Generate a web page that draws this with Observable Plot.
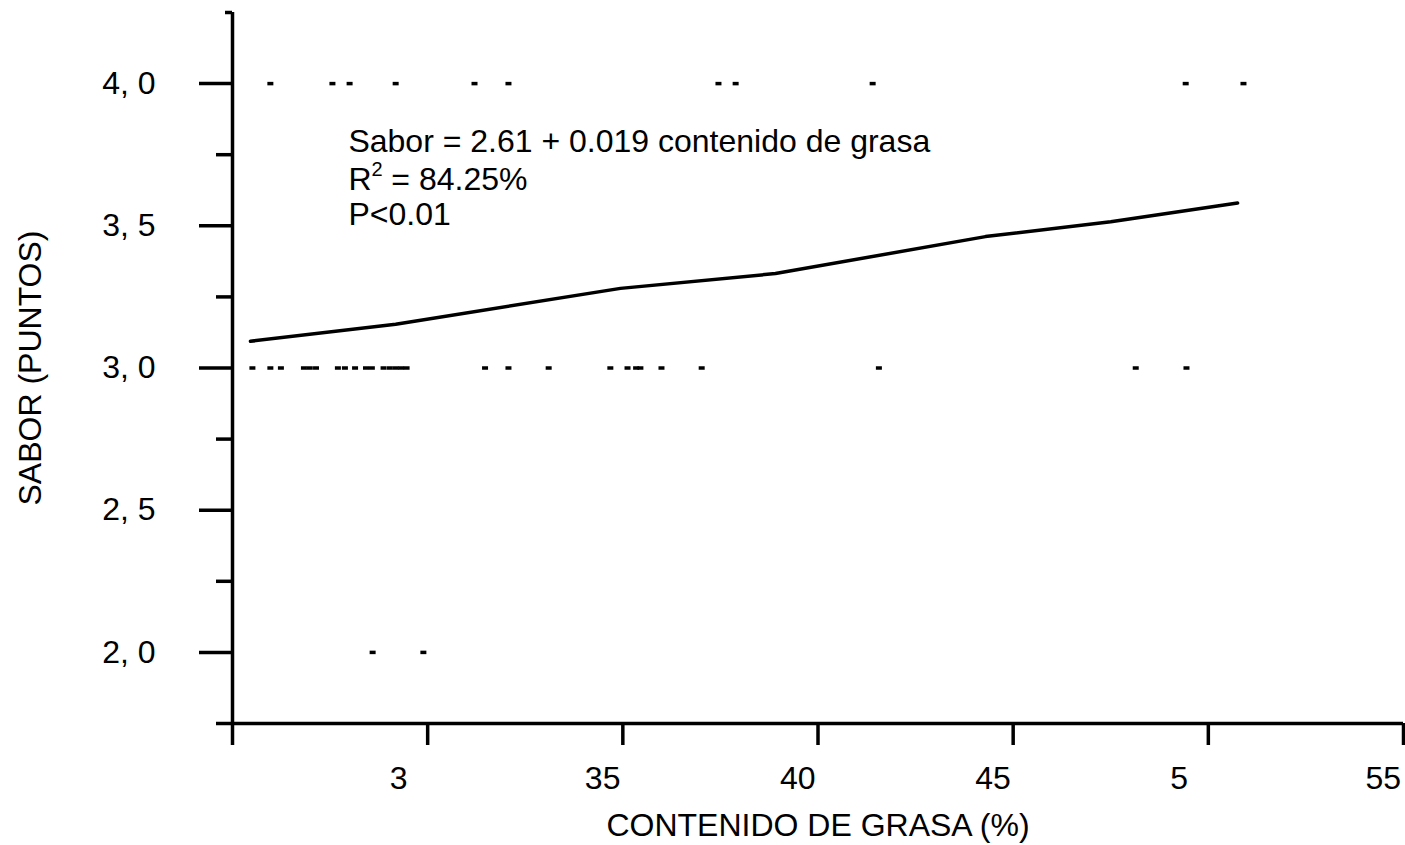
<!DOCTYPE html>
<html>
<head>
<meta charset="utf-8">
<script src="https://cdn.jsdelivr.net/npm/d3@7"></script>
<script src="https://cdn.jsdelivr.net/npm/@observablehq/plot@0.6"></script>
<style>
  html, body { margin: 0; padding: 0; background: #fff; }
  #chart { width: 1405px; height: 845px; }
</style>
</head>
<body>
<div id="chart"></div>
<script>
// ---- data ----
const grasa4 = [25.97, 27.56, 28.0, 29.18, 31.2, 32.07, 37.45, 37.89, 41.4, 49.42, 50.9];
const grasa3 = [25.51, 25.97, 26.24, 26.83, 26.98, 27.14, 27.70, 27.88, 28.14, 28.42, 28.57,
                28.87, 29.03, 29.18, 29.32, 29.46, 31.47, 32.07, 33.10, 34.68, 35.12, 35.34,
                35.45, 35.99, 37.02, 41.56, 48.14, 49.44];
const grasa2 = [28.59, 29.89];
const fitX = [25.46, 29.18, 34.94, 38.91, 44.29, 47.50, 50.75];
const fitY = [3.094, 3.154, 3.280, 3.332, 3.462, 3.514, 3.580];
const xTicks = [25, 30, 35, 40, 45, 50, 55];
const xTickLabels = ["", "3", "35", "40", "45", "5", "55"];
const yTicks = [2.0, 2.5, 3.0, 3.5, 4.0];
const yTickLabels = ["2, 0", "2, 5", "3, 0", "3, 5", "4, 0"];
const yMinorTicks = [1.75, 2.25, 2.75, 3.25, 3.75];
const yTopStub = [4.25];
const annotX = 27.97;
const annotY = [3.794, 3.661, 3.538];
const line1 = "Sabor = 2.61 + 0.019 contenido de grasa";
const line2a = "R";
const line2sup = "2";
const line2b = " = 84.25%";
const line3 = "P<0.01";

const points = [
  ...grasa4.map(x => ({x, y: 4.0})),
  ...grasa3.map(x => ({x, y: 3.0})),
  ...grasa2.map(x => ({x, y: 2.0}))
];
const fit = fitX.map((x, i) => ({x, y: fitY[i]}));
const xLab = new Map(xTicks.map((d, i) => [d, xTickLabels[i]]));
const yLab = new Map(yTicks.map((d, i) => [d, yTickLabels[i]]));

const rectSymbol = { draw(ctx) { ctx.rect(-3, -1.75, 6, 3.5); } };
const FONT = "'Liberation Sans', Arial, Helvetica, sans-serif";
const SW = 3.5;

const chart = Plot.plot({
  width: 1405,
  height: 845,
  marginLeft: 232,
  marginRight: 2,
  marginTop: 12,
  marginBottom: 122,
  style: { fontFamily: FONT, fontSize: "32px", color: "#000", background: "#fff" },
  x: { domain: [25, 55] },
  y: { domain: [1.75, 4.25] },
  marks: [
    // axis lines
    Plot.ruleX([25], { y1: 1.75, y2: 4.25, strokeWidth: SW, stroke: "#000" }),
    Plot.ruleY([1.75], { x1: 25, x2: 55, strokeWidth: SW, stroke: "#000" }),
    // y minor ticks
    Plot.axisY({ ticks: yMinorTicks, tickSize: 16, text: null, strokeWidth: SW, label: null }),
    Plot.axisY({ ticks: yTopStub, tickSize: 7, text: null, strokeWidth: SW, label: null }),
    // y major ticks + labels
    Plot.axisY({ ticks: yTicks, tickSize: 33, tickPadding: 44, strokeWidth: SW,
                 tickFormat: d => yLab.get(d), fontSize: 32, label: null }),
    // x ticks
    Plot.axisX({ ticks: xTicks, tickSize: 22, text: null, strokeWidth: SW, label: null }),
    // x tick labels (offset left of their ticks as in the original)
    Plot.axisX({ ticks: xTicks, tickSize: 0, tickPadding: 43, textAnchor: "start", dx: -38,
                 tickFormat: d => xLab.get(d), fontSize: 32, label: null }),
    // axis titles
    Plot.axisY({ ticks: [], label: "SABOR (PUNTOS)", labelAnchor: "center", labelOffset: 214, fontSize: 32, labelArrow: "none" }),
    Plot.axisX({ ticks: [], label: "CONTENIDO DE GRASA (%)", labelAnchor: "center", labelOffset: 112, dx: 12, fontSize: 32, labelArrow: "none" }),
    // data points
    Plot.dot(points, { x: "x", y: "y", symbol: rectSymbol, fill: "#000", stroke: null, r: 3 }),
    // regression line
    Plot.line(fit, { x: "x", y: "y", stroke: "#000", strokeWidth: SW }),
    // annotation
    Plot.text([line1], { x: annotX, y: annotY[0], text: d => d, textAnchor: "start", fontSize: 32, fill: "#000" }),
    Plot.text([line2a], { x: annotX, y: annotY[1], text: d => d, textAnchor: "start", fontSize: 32, fill: "#000" }),
    Plot.text([line2sup], { x: annotX, y: annotY[1], text: d => d, textAnchor: "start", dx: 23, dy: -10, fontSize: 20, fill: "#000" }),
    Plot.text([line2b], { x: annotX, y: annotY[1], text: d => d, textAnchor: "start", dx: 34, fontSize: 32, fill: "#000" }),
    Plot.text([line3], { x: annotX, y: annotY[2], text: d => d, textAnchor: "start", fontSize: 32, fill: "#000" })
  ]
});
document.getElementById("chart").appendChild(chart);
</script>
</body>
</html>
